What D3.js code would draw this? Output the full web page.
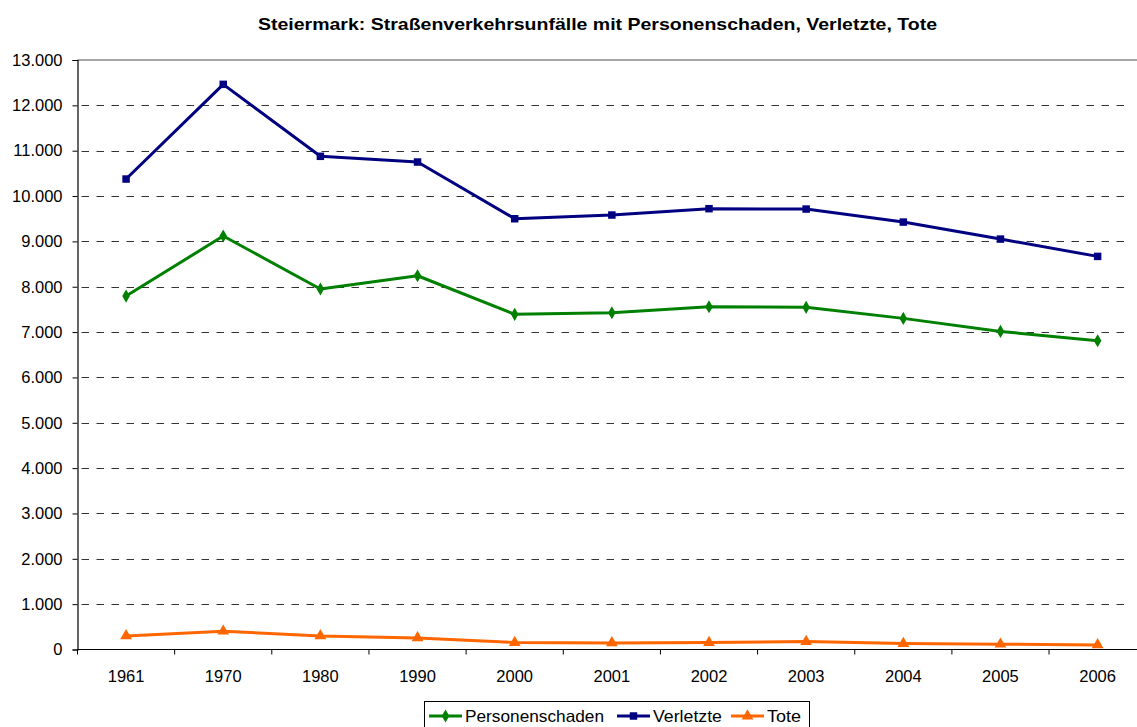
<!DOCTYPE html>
<html><head><meta charset="utf-8">
<script src="https://cdn.jsdelivr.net/npm/d3@7"></script>
<style>body{margin:0;background:#fff}svg{display:block}text{font-family:"Liberation Sans",Arial,sans-serif}</style>
</head><body><svg id="c" width="1137" height="727"></svg>
<script>
const title = "Steiermark: Straßenverkehrsunfälle mit Personenschaden, Verletzte, Tote";
const categories = ["1961","1970","1980","1990","2000","2001","2002","2003","2004","2005","2006"];
const personenschaden = [7794,9118,7949,8242,7391,7426,7558,7545,7302,7015,6808];
const verletzte = [10375,12463,10876,10750,9499,9581,9721,9713,9426,9051,8669];
const tote = [300,404,300,256,154,146,154,176,132,117,101];
const yTicks = [0,1000,2000,3000,4000,5000,6000,7000,8000,9000,10000,11000,12000,13000];
const seriesNames = ["Personenschaden","Verletzte","Tote"];
const seriesColors = ["#008000","#000080","#FF6600"];
const seriesValues = [personenschaden, verletzte, tote];
const seriesMarkers = [d3.symbolDiamond, d3.symbolSquare, d3.symbolTriangle];

const svg = d3.select("#c");
const L = 77.5, R = 1146.2, T = 60, B = 649.5;
const x = d3.scaleBand().domain(categories).range([L, R]);
const y = d3.scaleLinear().domain([0, 13000]).range([B, T]);
const fmt = v => d3.format(",")(v).replace(/,/g, ".");
const FS = 16.5;

svg.append("text").attr("x", 258).attr("y", 30)
  .attr("font-size", 16.5).attr("font-weight", "bold")
  .attr("textLength", 679).attr("lengthAdjust", "spacingAndGlyphs").text(title);

// gridlines
svg.append("g").selectAll("line").data(yTicks.filter(v => v > 0 && v < 13000)).join("line")
  .attr("x1", L + 1).attr("x2", 1131).attr("y1", d => Math.round(y(d)) + 0.5).attr("y2", d => Math.round(y(d)) + 0.5)
  .attr("stroke", "#333").attr("stroke-width", 1).attr("stroke-dasharray", "7.5,7.5").attr("stroke-dashoffset", -3);
svg.append("line").attr("x1", L).attr("x2", 1137).attr("y1", y(13000)).attr("y2", y(13000))
  .attr("stroke", "#888").attr("stroke-width", 1.5);

// y axis
const yAxis = d3.axisLeft(y).tickValues(yTicks).tickFormat(fmt).tickSize(5).tickPadding(10);
const gy = svg.append("g").attr("transform", `translate(${L},0)`).call(yAxis);
gy.attr("font-size", FS).attr("font-family", '"Liberation Sans",Arial,sans-serif');
gy.select(".domain").attr("stroke", "#000").attr("stroke-width", 1.2);
gy.selectAll(".tick line").attr("stroke", "#000");
gy.selectAll("text").attr("fill", "#000");

// x axis with ticks at band boundaries
const gx = svg.append("g").attr("transform", `translate(0,${B})`);
gx.append("line").attr("x1", L).attr("x2", 1137).attr("stroke", "#000").attr("stroke-width", 1.2);
const bounds = categories.map(c => x(c)).concat([R]);
gx.selectAll("line.t").data(bounds).join("line").attr("class", "t")
  .attr("x1", d => d).attr("x2", d => d).attr("y1", 0).attr("y2", 5).attr("stroke", "#000");
gx.selectAll("text").data(categories).join("text")
  .attr("x", d => x(d) + x.bandwidth() / 2).attr("y", 32).attr("text-anchor", "middle")
  .attr("font-size", FS).attr("fill", "#000").text(d => d);

// series
const cx = c => x(c) + x.bandwidth() / 2;
const line = d3.line().x((d, i) => cx(categories[i])).y(d => y(d));
const sizes = [50, 56, 60];
seriesValues.forEach((vals, s) => {
  svg.append("path").datum(vals).attr("d", line).attr("fill", "none")
    .attr("stroke", seriesColors[s]).attr("stroke-width", 3).attr("stroke-linejoin", "round");
  svg.append("g").selectAll("path").data(vals).join("path")
    .attr("transform", (d, i) => `translate(${cx(categories[i])},${y(d)})`)
    .attr("d", d3.symbol().type(seriesMarkers[s]).size(sizes[s]))
    .attr("fill", seriesColors[s]);
});

// legend
const lg = svg.append("g");
lg.append("rect").attr("x", 424.5).attr("y", 701.5).attr("width", 385).attr("height", 30)
  .attr("fill", "#fff").attr("stroke", "#000").attr("stroke-width", 1);
const legX = [429, 617, 731];
const legW = [139, 69, 34];
seriesNames.forEach((n, s) => {
  const g = lg.append("g").attr("transform", `translate(${legX[s]},716)`);
  g.append("line").attr("x1", 0).attr("x2", 33).attr("stroke", seriesColors[s]).attr("stroke-width", 3);
  g.append("path").attr("transform", "translate(16.5,0)")
    .attr("d", d3.symbol().type(seriesMarkers[s]).size(sizes[s])).attr("fill", seriesColors[s]);
  g.append("text").attr("x", 36).attr("y", 6).attr("font-size", FS).attr("fill", "#000")
    .attr("textLength", legW[s]).attr("lengthAdjust", "spacingAndGlyphs").text(n);
});
</script></body></html>
